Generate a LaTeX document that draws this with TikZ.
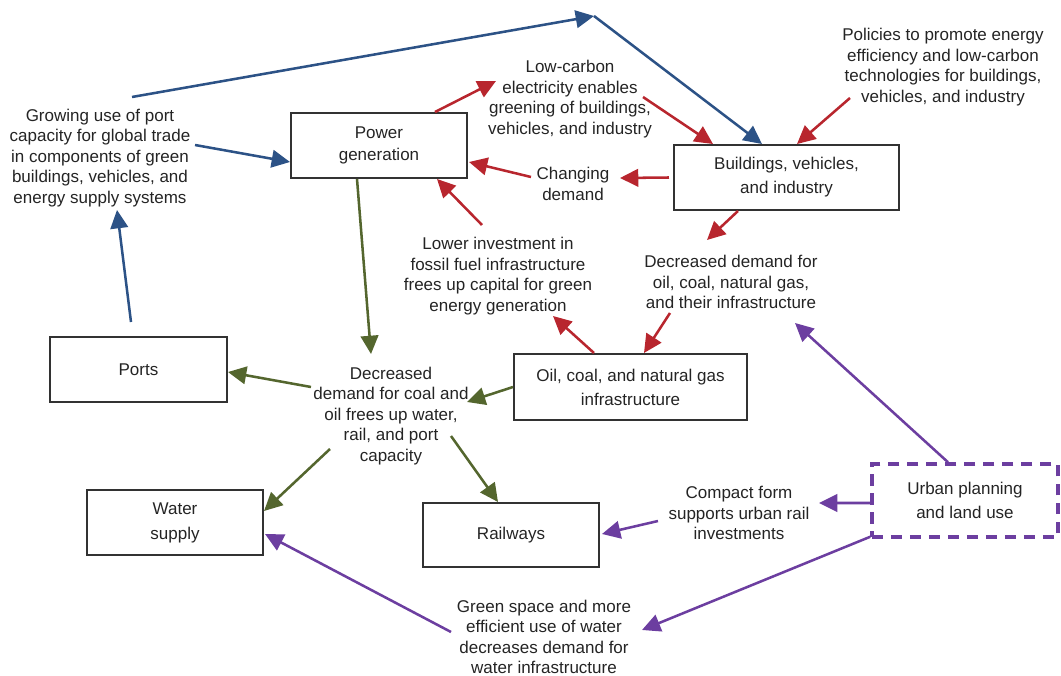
\documentclass[tikz,border=0pt]{standalone}
\usepackage{fontspec}
\setmainfont{Liberation Sans}
\usetikzlibrary{arrows.meta}
\definecolor{cblue}{RGB}{44,82,134}
\definecolor{cred}{RGB}{184,38,46}
\definecolor{cgreen}{RGB}{84,102,46}
\definecolor{cpurple}{RGB}{108,62,160}
\definecolor{boxc}{RGB}{50,50,50}
\definecolor{txt}{RGB}{36,36,36}
\begin{document}
\begin{tikzpicture}[x=0.025cm,y=-0.025cm,
  box/.style={draw=boxc, line width=1.4pt, align=center, inner sep=0pt, text=txt,
    minimum height=1.625cm, font=\fontsize{12.1}{17}\selectfont},
  lbl/.style={align=center, inner sep=0pt, text=txt, font=\fontsize{12.1}{14.6}\selectfont},
  arr/.style={line width=1.8pt, -{Triangle[length=13pt,width=12.5pt]}}]
\useasboundingbox (0,0) rectangle (1061,676);

% boxes
\node[box, minimum width=4.4cm, font=\fontsize{12.1}{15.6}\selectfont] (pg) at (379,145.5) {Power\\generation};
\node[box, minimum width=5.625cm] (bvi) at (786.5,177.5) {Buildings, vehicles,\\and industry};
\node[box, minimum width=4.425cm] (ports) at (138.5,369.5) {Ports};
\node[box, minimum width=5.825cm, minimum height=1.65cm] (oil) at (630.5,387) {Oil, coal, and natural gas\\infrastructure};
\node[box, minimum width=4.4cm, font=\fontsize{12.1}{17.8}\selectfont] (water) at (175,522.5) {Water\\supply};
\node[box, minimum width=4.4cm, minimum height=1.6cm] (rail) at (511,535) {Railways};
\node[box, draw=cpurple, line width=2.5pt, dash pattern=on 8pt off 5.5pt, minimum width=4.65cm, minimum height=1.825cm] (urban) at (965,500.5) {Urban planning\\and land use};

% text labels
\node[lbl] (grow) at (100,158) {Growing use of port\\capacity for global trade\\in components of green\\buildings, vehicles, and\\energy supply systems};
\node[lbl] (lc) at (570,99) {Low-carbon\\electricity enables\\greening of buildings,\\vehicles, and industry};
\node[lbl] (chg) at (573,184) {Changing\\demand};
\node[lbl] (pol) at (943,67) {Policies to promote energy\\efficiency and low-carbon\\technologies for buildings,\\vehicles, and industry};
\node[lbl] (dd) at (731,282) {Decreased demand for\\oil, coal, natural gas,\\and their infrastructure};
\node[lbl] (li) at (498,276) {Lower investment in\\fossil fuel infrastructure\\frees up capital for green\\energy generation};
\node[lbl] (dc) at (391,416) {Decreased\\demand for coal and\\oil frees up water,\\rail, and port\\capacity};
\node[lbl] (cf) at (739,513) {Compact form\\supports urban rail\\investments};
\node[lbl] (gs) at (544,637) {Green space and more\\efficient use of water\\decreases demand for\\water infrastructure};

\coordinate (topc) at (594,16);

% blue
\draw[arr,cblue] ([shift={(32,-61)}]grow.center) -- (topc);
\draw[arr,cblue] (topc) -- ([shift={(-24.5,0)}]bvi.north);
\draw[arr,cblue] ([shift={(95,-13)}]grow.center) -- ([shift={(0,16.5)}]pg.west);
\draw[arr,cblue] ([shift={(-7.5,-14)}]ports.north) -- ([shift={(17,52)}]grow.center);

% red
\draw[arr,cred] ([shift={(56,0)}]pg.north) -- ([shift={(-74,-18)}]lc.center);
\draw[arr,cred] ([shift={(73,-2)}]lc.center) -- ([shift={(-73.5,0)}]bvi.north);
\draw[arr,cred] ([shift={(-93,31)}]pol.center) -- ([shift={(10.5,0)}]bvi.north);
\draw[arr,cred] ([shift={(-4,0)}]bvi.west) -- ([shift={(47,-6)}]chg.center);
\draw[arr,cred] ([shift={(-42,-7)}]chg.center) -- ([shift={(1,16.5)}]pg.east);
\draw[arr,cred] ([shift={(-16,-51)}]li.center) -- ([shift={(58,0)}]pg.south);
\draw[arr,cred] ([shift={(-48.5,0)}]bvi.south) -- ([shift={(-24,-42)}]dd.center);
\draw[arr,cred] ([shift={(-61,31)}]dd.center) -- ([shift={(13.5,0)}]oil.north);
\draw[arr,cred] ([shift={(-36.5,0)}]oil.north) -- ([shift={(55,40)}]li.center);

% green
\draw[arr,cgreen] ([shift={(-22,0)}]pg.south) -- ([shift={(-20,-62)}]dc.center);
\draw[arr,cgreen] ([shift={(-80,-29)}]dc.center) -- ([shift={(0,2.5)}]ports.east);
\draw[arr,cgreen] (oil.west) -- ([shift={(76,-14)}]dc.center);
\draw[arr,cgreen] ([shift={(-61,33)}]dc.center) -- ([shift={(0,-11.5)}]water.east);
\draw[arr,cgreen] ([shift={(60,20)}]dc.center) -- ([shift={(-13,0)}]rail.north);

% purple
\draw[arr,cpurple] ([shift={(-17,0)}]urban.north) -- ([shift={(64,41)}]dd.center);
\draw[arr,cpurple] ([shift={(0,2.5)}]urban.west) -- ([shift={(80,-10)}]cf.center);
\draw[arr,cpurple] ([shift={(-81,8)}]cf.center) -- ([shift={(2,-1)}]rail.east);
\draw[arr,cpurple] ([shift={(0,-2)}]urban.south west) -- ([shift={(98,-7)}]gs.center);
\draw[arr,cpurple] ([shift={(-93,-5)}]gs.center) -- ([shift={(1,11.5)}]water.east);
\end{tikzpicture}
\end{document}
